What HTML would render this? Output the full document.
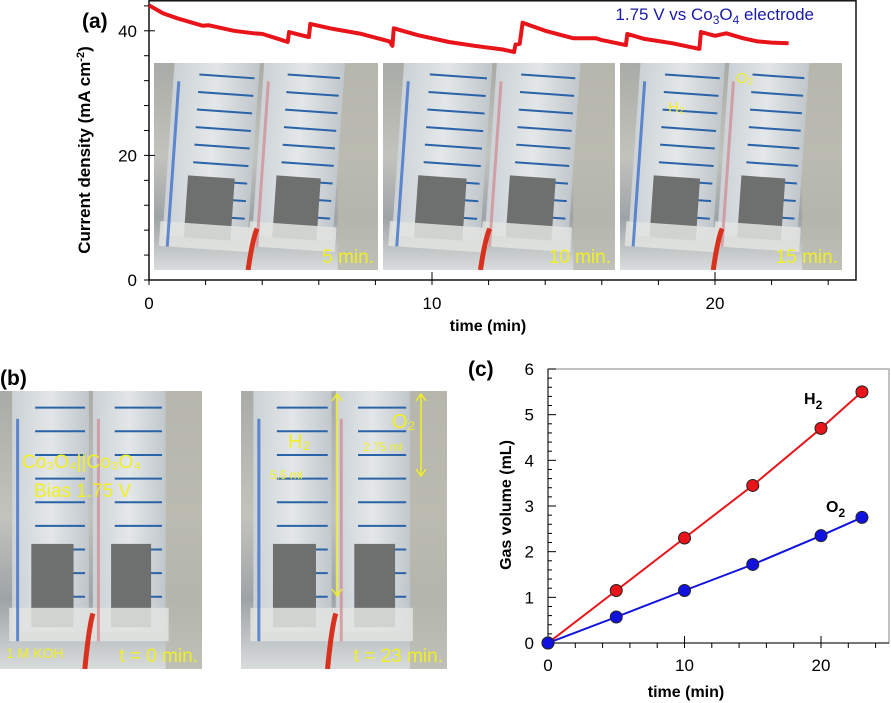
<!DOCTYPE html>
<html><head><meta charset="utf-8"><style>
html,body{margin:0;padding:0;background:#fff;}
svg{display:block;font-family:"Liberation Sans",sans-serif;}
</style></head><body>
<svg id="fig" width="891" height="703" viewBox="0 0 891 703" xmlns="http://www.w3.org/2000/svg">
<defs>
<linearGradient id="bg" x1="0" y1="0" x2="0" y2="1">
<stop offset="0" stop-color="#a9aba6"/><stop offset="0.45" stop-color="#c2c3bd"/><stop offset="0.75" stop-color="#9ea3a6"/><stop offset="1" stop-color="#d8dcdc"/></linearGradient>
<linearGradient id="tube" x1="0" y1="0" x2="1" y2="0">
<stop offset="0" stop-color="#cfd5da"/><stop offset="0.5" stop-color="#e8ecef"/><stop offset="1" stop-color="#c2c9ce"/></linearGradient>
</defs>
<g id="photos"></g>
<g id="chartA"></g>
<g id="chartC"></g>
<text x="82" y="28" font-size="21" font-weight="bold">(a)</text>
<text x="0" y="385" font-size="21" font-weight="bold">(b)</text>
<text x="468" y="376" font-size="21" font-weight="bold">(c)</text>
</svg>
<script>
// ---- Panel (a) data ----
const timeA = [0,0.5,1,1.9,2.1,3,3.7,4,4.5,4.9,4.95,5.2,5.65,5.7,6.5,7.5,8.5,8.6,8.65,9.5,10.6,11.5,12.5,12.9,12.95,13.1,13.2,14,15,15.8,16,16.85,16.9,17.5,18.5,19.45,19.5,20,20.4,21,21.5,22,22.6];
const currentA = [44.1,42.8,42,40.8,40.9,40,39.6,39.5,38.8,38.2,39.8,39.5,39,41.1,40.3,39.5,38.3,37.6,40.4,39.3,38.2,37.6,37,36.6,37.8,37.9,41.3,40,38.8,38.8,38.5,37.7,39.5,38.7,38,37.1,39.8,39.2,39.6,38.8,38.3,38.1,38.0];
const yTicksA = [0,20,40];
const xTicksA = [0,10,20];
// ---- Panel (c) data ----
const timeC = [0,5,10,15,20,23];
const h2Vol = [0,1.15,2.3,3.45,4.7,5.5];
const o2Vol = [0,0.57,1.15,1.72,2.35,2.75];
const yTicksC = [0,1,2,3,4,5,6];
const xTicksC = [0,10,20];

const NS="http://www.w3.org/2000/svg";
function mk(tag,attrs,parent,txt){const e=document.createElementNS(NS,tag);for(const k in attrs)e.setAttribute(k,attrs[k]);if(txt!==undefined)e.textContent=txt;parent.appendChild(e);return e;}
const defs=document.querySelector('defs');
let clipN=0;

// ---- Photos ----
const photos=document.getElementById('photos');
function photo(x,y,w,h,name,label,tilt){
  const cid='clip'+(clipN++);
  const cp=mk('clipPath',{id:cid},defs);
  mk('rect',{x:x,y:y,width:w,height:h},cp);
  const g=mk('g',{'clip-path':`url(#${cid})`},photos);
  
  
  mk('rect',{x:x,y:y,width:w,height:h,fill:'url(#bg)'},g);
  mk('rect',{x:x+w*0.82,y:y,width:w*0.18,height:h,fill:'#b9b9ae',opacity:0.8},g);
  const tubes=[[0.06,0.44],[0.46,0.82]];
  tubes.forEach((t,i)=>{
    const x0=x+w*t[0],x1=x+w*t[1];
    const tg=mk('g',{transform:`rotate(${tilt} ${(x0+x1)/2} ${y+h/2})`},g);
    mk('rect',{x:x0,y:y-15,width:x1-x0,height:h*0.92,fill:'url(#tube)',opacity:0.9},tg);
    for(let k=0;k<9;k++){
      const ly=y+h*0.06+k*h*0.085;
      mk('line',{x1:x0+(x1-x0)*0.3,y1:ly,x2:x1-(x1-x0)*0.05,y2:ly,stroke:'#2a63a8','stroke-width':2},tg);
    }
    mk('rect',{x:x0+(x1-x0)*0.25,y:y+h*0.55,width:(x1-x0)*0.55,height:h*0.3,fill:'#6e7070'},tg);
    mk('rect',{x:x0-3,y:y+h*0.78,width:x1-x0+6,height:h*0.12,fill:'#e2e4e0',opacity:0.85},tg);
    mk('rect',{x:x0+4,y:y+h*0.1,width:3,height:h*0.8,fill:i==0?'#2a63c8':'#d08890',opacity:0.7},tg);
  });
  mk('path',{d:`M${x+w*0.42} ${y+h} Q${x+w*0.44} ${y+h*0.85} ${x+w*0.46} ${y+h*0.8}`,stroke:'#d8321e','stroke-width':5,fill:'none'},g);
  if(label){const t=mk('text',{x:x+w-4,y:y+h-7,'font-size':19,fill:'#f0f020','text-anchor':'end'},g,label);
    
    }
  return g;
}
photo(154,63,224,207,'photo-5-min','5 min.',4);
photo(383,63,232,207,'photo-10-min','10 min.',4);
const p15=photo(620,63,222,207,'photo-15-min','15 min.',4);
mk('text',{x:668,y:112,'font-size':15,fill:'#f0f020'},p15,'H₂');
mk('text',{x:736,y:83,'font-size':15,fill:'#f0f020'},p15,'O₂');
const pb0=photo(0,391,202,278,'photo-t0','t = 0 min.',0);
const tb1=mk('text',{x:22,y:468,'font-size':19,fill:'#f0f020'},pb0,'Co₃O₄||Co₃O₄');


mk('text',{x:34,y:497,'font-size':19,fill:'#f0f020'},pb0,'Bias 1.75 V');
mk('text',{x:6,y:658,'font-size':14,fill:'#f0f020'},pb0,'1 M KOH');
const pb1=photo(241,391,206,278,'photo-t23','t = 23 min.',0);
mk('text',{x:288,y:448,'font-size':20,fill:'#f0f020'},pb1,'H₂');
mk('text',{x:270,y:479,'font-size':12,fill:'#f0f020'},pb1,'5.5 ml');
mk('text',{x:392,y:428,'font-size':20,fill:'#f0f020'},pb1,'O₂');
mk('text',{x:363,y:451,'font-size':12,fill:'#f0f020'},pb1,'2.75 ml');
[[337,392,337,598],[421,392,421,478]].forEach(a=>{
  mk('line',{x1:a[0],y1:a[1]+2,x2:a[2],y2:a[3]-2,stroke:'#f0f020','stroke-width':1.5},pb1);
  mk('path',{d:`M${a[0]-5} ${a[1]+9} L${a[0]} ${a[1]+2} L${a[0]+5} ${a[1]+9} M${a[2]-5} ${a[3]-9} L${a[2]} ${a[3]-2} L${a[2]+5} ${a[3]-9}`,stroke:'#f0f020','stroke-width':1.5,fill:'none'},pb1);
});

// ---- Chart (a) ----
const A=document.getElementById('chartA');
const aL=149,aR=856,aT=0,aB=280;
const xA=t=>aL+t*28.3, yA=v=>aB-v*6.23;
const frA=mk('rect',{x:aL,y:aT+0.8,width:aR-aL,height:aB-aT-0.8,fill:'none',stroke:'#000','stroke-width':1.4},A);


for(let t=0;t<=24;t+=2){const big=t%10==0;mk('line',{x1:xA(t),y1:aB+(big?-8:0),x2:xA(t),y2:aB+5,stroke:'#000'},A);}
for(let v=0;v<=44;v+=4){mk('line',{x1:aL-5,y1:yA(v),x2:aL+(v%20==0?6:0),y2:yA(v),stroke:'#000'},A);}
xTicksA.forEach(t=>{const e=mk('text',{x:xA(t),y:aB+29,'font-size':17,'text-anchor':'middle'},A,t);
  
  });
yTicksA.forEach(v=>{const e=mk('text',{x:aL-12,y:yA(v)+6,'font-size':17,'text-anchor':'end'},A,v);
  
  });
const xtA=mk('text',{x:488,y:331,'font-size':16,'font-weight':'bold','text-anchor':'middle'},A,'time (min)');


const ytA=mk('text',{transform:'translate(90 150) rotate(-90)','font-size':17,'font-weight':'bold','text-anchor':'middle'},A);


ytA.innerHTML='Current density (mA cm<tspan dy="-6" font-size="11">-2</tspan><tspan dy="6">)</tspan>';
const lineA=mk('path',{d:timeA.map((t,i)=>(i?'L':'M')+xA(t).toFixed(1)+' '+yA(currentA[i]).toFixed(1)).join(' '),fill:'none',stroke:'#e8141a','stroke-width':4,'stroke-linejoin':'round'},A);


const lgA=mk('text',{x:814,y:20,'font-size':17,fill:'#1a1aa8','text-anchor':'end'},A);


lgA.innerHTML='1.75 V vs Co<tspan dy="4" font-size="12">3</tspan><tspan dy="-4">O</tspan><tspan dy="4" font-size="12">4</tspan><tspan dy="-4"> electrode</tspan>';

// ---- Chart (c) ----
const C=document.getElementById('chartC');
const cL=548,cR=889,cT=369,cB=643;
const xC=t=>cL+t*13.65, yC=v=>cB-v*(cB-cT)/6;
const frC=mk('rect',{x:cL,y:cT,width:cR-cL,height:cB-cT,fill:'none',stroke:'#999','stroke-width':1.2},C);


mk('line',{x1:cL,y1:cT,x2:cL,y2:cB,stroke:'#000'},C);
mk('line',{x1:cL,y1:cB,x2:cR,y2:cB,stroke:'#000'},C);
for(let t=0;t<=24;t+=2){mk('line',{x1:xC(t),y1:cB-(t%10==0?7:0),x2:xC(t),y2:cB+5,stroke:'#000'},C);}
for(let v=0;v<=6.001;v+=0.2){const big=Math.abs(v-Math.round(v))<0.01;mk('line',{x1:cL,y1:yC(v),x2:cL+(big?8:4),y2:yC(v),stroke:'#000'},C);}
xTicksC.forEach(t=>{const e=mk('text',{x:xC(t),y:cB+28,'font-size':17,'text-anchor':'middle'},C,t);
  
  });
yTicksC.forEach(v=>{const e=mk('text',{x:cL-14,y:yC(v)+6,'font-size':17,'text-anchor':'end'},C,v);
  
  });
const xtC=mk('text',{x:686,y:697,'font-size':16,'font-weight':'bold','text-anchor':'middle'},C,'time (min)');


const ytC=mk('text',{transform:'translate(511 505) rotate(-90)','font-size':16,'font-weight':'bold','text-anchor':'middle'},C,'Gas volume (mL)');


function series(vals,color,name){
  const p=mk('path',{d:timeC.map((t,i)=>(i?'L':'M')+xC(t).toFixed(1)+' '+yC(vals[i]).toFixed(1)).join(' '),fill:'none',stroke:color,'stroke-width':2},C);
  
  
  timeC.forEach((t,i)=>{const c=mk('circle',{cx:xC(t),cy:yC(vals[i]),r:6,fill:color,stroke:'#222','stroke-width':1},C);
    
    });
}
series(h2Vol,'#e8141a','h2');
series(o2Vol,'#1212e0','o2');
const lh=mk('text',{x:804,y:404,'font-size':16,'font-weight':'bold'},C);


lh.innerHTML='H<tspan dy="5" font-size="12">2</tspan>';
const lo=mk('text',{x:826,y:512,'font-size':16,'font-weight':'bold'},C);


lo.innerHTML='O<tspan dy="5" font-size="12">2</tspan>';
</script>
</body></html>
